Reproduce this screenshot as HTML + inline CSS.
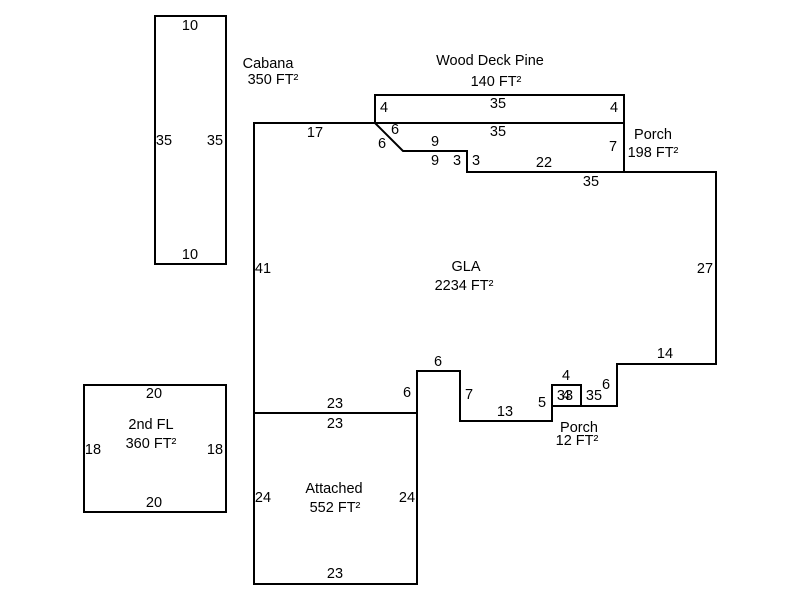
<!DOCTYPE html>
<html><head><style>body{margin:0;background:#fff}svg{display:block}</style></head><body>
<svg width="800" height="600" viewBox="0 0 800 600" xmlns="http://www.w3.org/2000/svg">
<rect width="800" height="600" fill="#fff"/>
<g fill="none" stroke="#000" stroke-width="2">
<rect x="155" y="16" width="71" height="248"/>
<rect x="84" y="385" width="142" height="127"/>
<rect x="375" y="95" width="249" height="28"/>
<polyline points="375,123 624,123 624,172"/>
<rect x="254" y="413" width="163" height="171"/>
<polyline points="254,413 254,123 375,123 403,151 467,151 467,172 716,172 716,364 617,364 617,406 552,406 552,421 460,421 460,371 417,371 417,413"/>
<rect x="552" y="385" width="29" height="21"/>
</g>
<g font-family="Liberation Sans, Arial, sans-serif" font-size="14.5" text-anchor="middle" fill="#000">
<text x="190" y="30">10</text><text x="164" y="145">35</text><text x="215" y="145">35</text><text x="190" y="259">10</text>
<text x="268" y="68">Cabana</text><text x="273" y="84">350 FT²</text>
<text x="490" y="65">Wood Deck Pine</text><text x="496" y="86">140 FT²</text>
<text x="384" y="112">4</text><text x="498" y="108">35</text><text x="614" y="112">4</text>
<text x="395" y="134">6</text><text x="498" y="136">35</text><text x="382" y="148">6</text><text x="435" y="146">9</text>
<text x="435" y="165">9</text><text x="457" y="165">3</text><text x="476" y="165">3</text><text x="544" y="167">22</text>
<text x="613" y="151">7</text><text x="653" y="139">Porch</text><text x="653" y="157">198 FT²</text>
<text x="591" y="186">35</text><text x="315" y="137">17</text><text x="263" y="273">41</text><text x="705" y="273">27</text>
<text x="466" y="271">GLA</text><text x="464" y="290">2234 FT²</text>
<text x="665" y="358">14</text><text x="606" y="389">6</text><text x="594" y="400">35</text>
<text x="566" y="380">4</text><text x="565" y="400">33</text><text x="566" y="400">4</text><text x="542" y="407">5</text>
<text x="579" y="432">Porch</text><text x="577" y="445">12 FT²</text>
<text x="505" y="416">13</text><text x="469" y="399">7</text><text x="438" y="366">6</text>
<text x="407" y="397">6</text><text x="335" y="408">23</text><text x="335" y="428">23</text>
<text x="263" y="502">24</text><text x="407" y="502">24</text>
<text x="334" y="493">Attached</text><text x="335" y="512">552 FT²</text><text x="335" y="578">23</text>
<text x="154" y="398">20</text><text x="151" y="429">2nd FL</text><text x="151" y="448">360 FT²</text>
<text x="93" y="454">18</text><text x="215" y="454">18</text><text x="154" y="507">20</text>
</g>
</svg>
</body></html>
